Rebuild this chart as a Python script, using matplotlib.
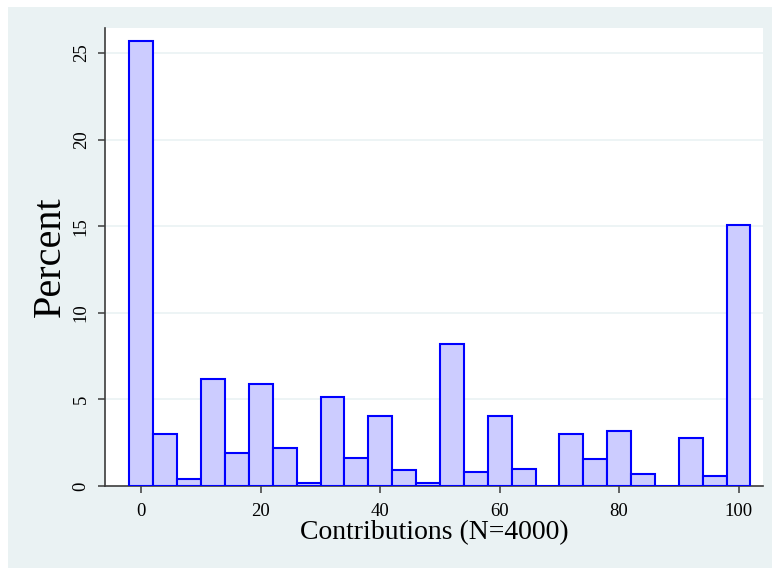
import matplotlib.pyplot as plt
from matplotlib.patches import Rectangle
import numpy as np

# histogram bins (width 4, centred on 0, 4, ..., 100)
bin_centers = np.arange(0, 101, 4)
bin_width = 4
percents = [25.7, 3.0, 0.4, 6.2, 1.9, 5.9, 2.2, 0.15, 5.15, 1.6, 4.05, 0.9, 0.15,
            8.2, 0.8, 4.05, 1.0, 0.0, 3.0, 1.55, 3.2, 0.7, 0.0, 2.75, 0.6, 15.1]

x_ticks = [0, 20, 40, 60, 80, 100]
y_ticks = [0, 5, 10, 15, 20, 25]

BG = "#EAF2F3"
FILL = "#CCCCFF"
EDGE = "#0000FF"

plt.rcParams['font.family'] = ['Liberation Serif', 'DejaVu Serif']

fig = plt.figure(figsize=(7.72, 5.68), dpi=100, facecolor="white")
# outer stata-like background, white strip on top and left
fig.patches.append(Rectangle((8 / 772, 0), 1, (568 - 7) / 568, transform=fig.transFigure,
                             facecolor=BG, edgecolor="none", zorder=-10))

ax = fig.add_axes([105 / 772, (568 - 486) / 568, (763 - 105) / 772, (486 - 28) / 568])
ax.set_zorder(5)
ax.set_facecolor("white")

ax.bar(bin_centers, percents, width=bin_width, color=FILL, edgecolor=EDGE,
       linewidth=1.5, zorder=3)

ax.set_xlim(-6.1, 104.1)
ax.set_ylim(0, 26.45)
ax.set_xticks(x_ticks)
ax.set_yticks(y_ticks)
ax.set_yticklabels([str(t) for t in y_ticks], rotation=90, va="center")

for y in y_ticks[1:]:
    ax.axhline(y, color=BG, linewidth=1.2, zorder=1)

for side in ["top", "right"]:
    ax.spines[side].set_visible(False)
for side in ["left", "bottom"]:
    ax.spines[side].set_color("#3c3c3c")
    ax.spines[side].set_linewidth(1.2)

ax.tick_params(axis="both", colors="#3c3c3c", length=5, width=1.1, labelsize=13.5,
               labelcolor="black")
ax.tick_params(axis="x", pad=7)
ax.tick_params(axis="y", pad=6)

ax.set_xlabel("Contributions (N=4000)", fontsize=20, labelpad=0)
ax.set_ylabel("Percent", fontsize=29, labelpad=3)

fig.savefig("out.png", dpi=100, facecolor=fig.get_facecolor())
